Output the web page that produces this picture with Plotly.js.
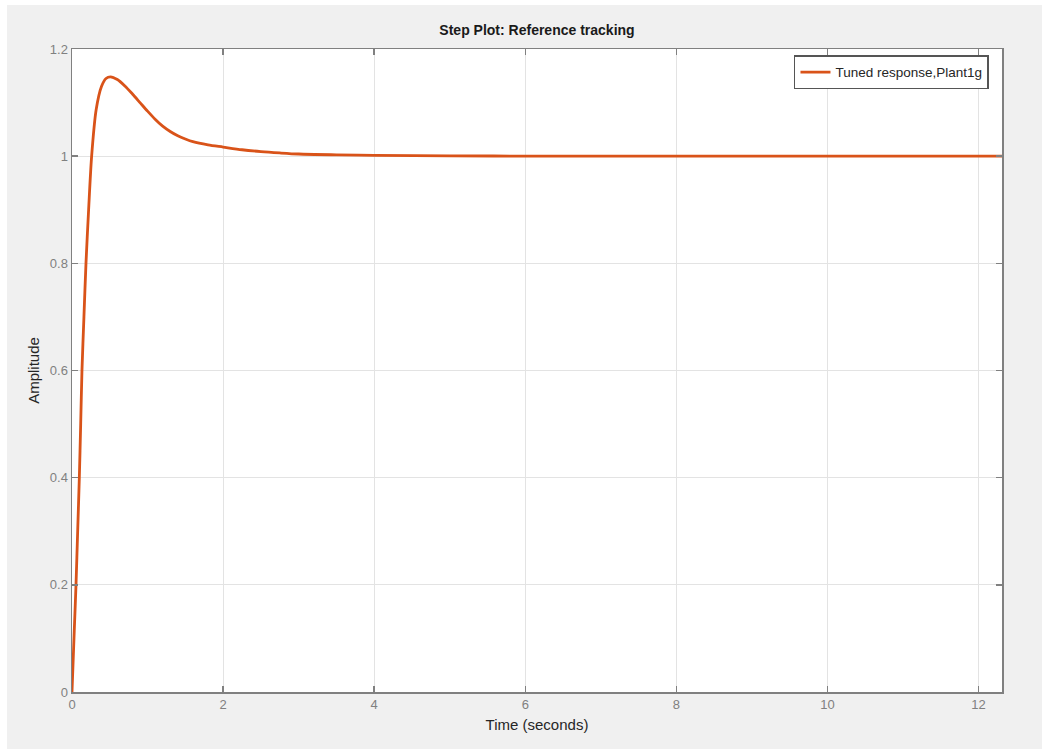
<!DOCTYPE html>
<html>
<head>
<meta charset="utf-8">
<script src="https://cdn.plot.ly/plotly-3.0.1.min.js"></script>
<style>
html, body { margin: 0; padding: 0; background: #ffffff; }
#chart { position: absolute; left: 7px; top: 5px; width: 1035px; height: 744px; }
</style>
</head>
<body>
<div id="chart"></div>
<script>
// Data
const timeSeconds = [0, 0.03, 0.053, 0.075, 0.097, 0.115, 0.132, 0.158, 0.185, 0.22, 0.26, 0.32, 0.39, 0.45, 0.51, 0.6, 0.7, 0.8, 0.9, 1.0, 1.1, 1.2, 1.3, 1.4, 1.5, 1.6, 1.8, 2.0, 2.25, 2.5, 2.75, 3.0, 3.5, 4.0, 5, 6, 8, 10, 12.31];
const amplitude = [0, 0.115, 0.2, 0.3, 0.4, 0.5, 0.6, 0.7, 0.8, 0.9, 1.0, 1.087, 1.13, 1.145, 1.148, 1.143, 1.131, 1.116, 1.1, 1.084, 1.069, 1.056, 1.046, 1.038, 1.032, 1.027, 1.021, 1.017, 1.012, 1.0085, 1.006, 1.004, 1.0025, 1.0015, 1.0005, 1.0002, 1.0, 1.0, 1.0];
const seriesName = "Tuned response,Plant1g";
const xTicks = [0, 2, 4, 6, 8, 10, 12];
const yTicks = [0, 0.2, 0.4, 0.6, 0.8, 1, 1.2];

const FONT = "'Liberation Sans', Arial, sans-serif";

const axisCommon = {
  showline: true,
  linecolor: "#808080",
  linewidth: 1.5,
  mirror: "ticks",
  ticks: "inside",
  ticklen: 6,
  tickwidth: 1.5,
  tickcolor: "#808080",
  showgrid: true,
  gridcolor: "#e3e3e3",
  gridwidth: 1,
  zeroline: false,
  tickfont: { family: FONT, size: 13, color: "#808080" },
  tickmode: "array"
};

const trace = {
  x: timeSeconds,
  y: amplitude,
  type: "scatter",
  mode: "lines",
  name: seriesName,
  line: { color: "#D95319", width: 2.8, shape: "spline", smoothing: 0.8 }
};

const layout = {
  paper_bgcolor: "#f0f0f0",
  plot_bgcolor: "#ffffff",
  width: 1035,
  height: 744,
  margin: { l: 65, r: 40, t: 44, b: 57 },
  showlegend: true,
  title: {
    text: "<b>Step Plot: Reference tracking</b>",
    font: { family: FONT, size: 14, color: "#1a1a1a" },
    x: 0.5, xref: "paper", xanchor: "center",
    y: 1, yref: "paper", yanchor: "bottom", pad: { b: 14 }
  },
  xaxis: Object.assign({}, axisCommon, {
    range: [0, 12.31],
    tickvals: xTicks,
    ticktext: xTicks.map(String),
    title: { text: "Time (seconds)", font: { family: FONT, size: 15, color: "#262626" }, standoff: 8 }
  }),
  yaxis: Object.assign({}, axisCommon, {
    range: [0, 1.2],
    tickvals: yTicks,
    ticktext: yTicks.map(String),
    title: { text: "Amplitude", font: { family: FONT, size: 15, color: "#262626" }, standoff: 6 }
  }),
  legend: {
    x: 0.986, y: 0.99, xanchor: "right", yanchor: "top",
    bgcolor: "#ffffff",
    bordercolor: "#555555",
    borderwidth: 1.5,
    font: { family: FONT, size: 13.5, color: "#262626" },
    itemwidth: 30,
    tracegroupgap: 0
  }
};

Plotly.newPlot("chart", [trace], layout, { displayModeBar: false, staticPlot: true });
</script>
</body>
</html>
